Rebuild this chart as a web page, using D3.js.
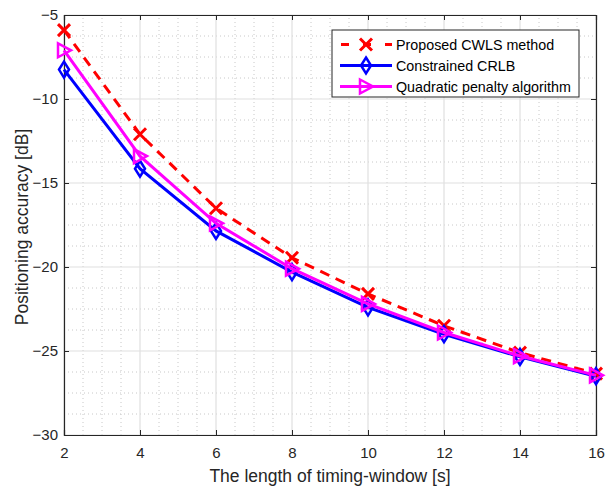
<!DOCTYPE html>
<html>
<head>
<meta charset="utf-8">
<script src="https://cdn.jsdelivr.net/npm/d3@7"></script>
<style>
  body { margin: 0; background: #fff; }
  svg { font-family: "Liberation Sans", Arial, sans-serif; }
</style>
</head>
<body>
<div id="chart"></div>
<script>
// data
const windowLen = [2, 4, 6, 8, 10, 12, 14, 16];
const cwls = [-5.9, -12.1, -16.5, -19.45, -21.6, -23.5, -25.1, -26.35];
const crlb = [-8.25, -14.15, -17.85, -20.3, -22.4, -24.0, -25.35, -26.5];
const quad = [-7.1, -13.4, -17.4, -20.1, -22.2, -23.9, -25.3, -26.45];
const seriesNames = ['Proposed CWLS method', 'Constrained CRLB', 'Quadratic penalty algorithm'];
const xTicks = [2, 4, 6, 8, 10, 12, 14, 16];
const yTicks = [-30, -25, -20, -15, -10, -5];

const W = 607, H = 487;
const margin = { left: 64, right: 11, top: 15, bottom: 52 };

const svg = d3.select('#chart').append('svg')
    .attr('width', W)
    .attr('height', H);

const x = d3.scaleLinear().domain([2, 16]).range([margin.left, W - margin.right]);
const y = d3.scaleLinear().domain([-30, -5]).range([H - margin.bottom, margin.top]);

// minor grid (dotted)
const minorX = d3.range(2, 16.01, 0.5).filter(v => !xTicks.includes(v));
const minorY = d3.range(-30, -4.99, 1.25).filter(v => !yTicks.includes(v));
svg.append('g').selectAll('line')
    .data(minorX).enter().append('line')
    .attr('x1', d => x(d)).attr('x2', d => x(d))
    .attr('y1', y(-30)).attr('y2', y(-5))
    .attr('stroke', '#c8c8c8').attr('stroke-width', 1)
    .attr('stroke-dasharray', '1,3');
svg.append('g').selectAll('line')
    .data(minorY).enter().append('line')
    .attr('x1', x(2)).attr('x2', x(16))
    .attr('y1', d => y(d)).attr('y2', d => y(d))
    .attr('stroke', '#c8c8c8').attr('stroke-width', 1)
    .attr('stroke-dasharray', '1,3');

// major grid
svg.append('g').selectAll('line')
    .data(xTicks).enter().append('line')
    .attr('x1', d => x(d)).attr('x2', d => x(d))
    .attr('y1', y(-30)).attr('y2', y(-5))
    .attr('stroke', '#e0e0e0').attr('stroke-width', 1.2);
svg.append('g').selectAll('line')
    .data(yTicks).enter().append('line')
    .attr('x1', x(2)).attr('x2', x(16))
    .attr('y1', d => y(d)).attr('y2', d => y(d))
    .attr('stroke', '#e0e0e0').attr('stroke-width', 1.2);

// axes
const xAxis = svg.append('g')
    .attr('transform', `translate(0,${y(-30)})`)
    .call(d3.axisBottom(x).tickValues(xTicks).tickSize(-5).tickPadding(12));
const xAxisTop = svg.append('g')
    .attr('transform', `translate(0,${y(-5)})`)
    .call(d3.axisTop(x).tickValues(xTicks).tickSize(-5).tickFormat(''));
const yAxis = svg.append('g')
    .attr('transform', `translate(${x(2)},0)`)
    .call(d3.axisLeft(y).tickValues(yTicks).tickSize(-5).tickPadding(6));
const yAxisRight = svg.append('g')
    .attr('transform', `translate(${x(16)},0)`)
    .call(d3.axisRight(y).tickValues(yTicks).tickSize(-5).tickFormat(''));

[xAxis, xAxisTop, yAxis, yAxisRight].forEach(a => {
    a.selectAll('path').attr('stroke', '#262626').attr('stroke-width', 1.2);
    a.selectAll('line').attr('stroke', '#262626');
    a.selectAll('text').attr('fill', '#262626')
        .style('font-size', '15px')
        .style('font-family', '"Liberation Sans", Arial, sans-serif');
});
yAxis.selectAll('text').attr('dy', '0.32em');

// axis labels
svg.append('text')
    .attr('x', (x(2) + x(16)) / 2)
    .attr('y', H - 5)
    .attr('text-anchor', 'middle')
    .attr('fill', '#262626')
    .style('font-size', '17.5px')
    .text('The length of timing-window [s]');
svg.append('text')
    .attr('transform', `translate(28,${(y(-5) + y(-30)) / 2 + 2}) rotate(-90)`)
    .attr('text-anchor', 'middle')
    .attr('fill', '#262626')
    .style('font-size', '17.5px')
    .text('Positioning accuracy [dB]');

// markers
function drawMarker(g, kind, color) {
    if (kind === 'x') {
        g.append('path').attr('d', 'M-6,-6L6,6M-6,6L6,-6')
            .attr('stroke', color).attr('stroke-width', 3).attr('fill', 'none');
    } else if (kind === 'diamond') {
        g.append('path').attr('d', 'M0,-8L5,0L0,8L-5,0Z')
            .attr('stroke', color).attr('stroke-width', 2.5).attr('fill', 'none');
    } else {
        g.append('path').attr('d', 'M-6,-7L7,0L-6,7Z')
            .attr('stroke', color).attr('stroke-width', 2.5).attr('fill', 'none');
    }
}

const series = [
    { name: seriesNames[0], values: cwls, color: '#ff0000', dash: '10,7', marker: 'x' },
    { name: seriesNames[1], values: crlb, color: '#0000ff', dash: null, marker: 'diamond' },
    { name: seriesNames[2], values: quad, color: '#ff00ff', dash: null, marker: 'tri' }
];

const line = d3.line()
    .x((d, i) => x(windowLen[i]))
    .y(d => y(d));

series.forEach(s => {
    svg.append('path')
        .datum(s.values)
        .attr('d', line)
        .attr('fill', 'none')
        .attr('stroke', s.color)
        .attr('stroke-width', 3)
        .attr('stroke-dasharray', s.dash);
    s.values.forEach((v, i) => {
        const g = svg.append('g').attr('transform', `translate(${x(windowLen[i])},${y(v)})`);
        drawMarker(g, s.marker, s.color);
    });
});

// legend
const legend = svg.append('g');
legend.append('rect')
    .attr('x', 332).attr('y', 30)
    .attr('width', 247).attr('height', 67)
    .attr('fill', '#fff').attr('stroke', '#262626').attr('stroke-width', 1);
series.forEach((s, i) => {
    const ly = 44.5 + i * 21;
    legend.append('line')
        .attr('x1', 340).attr('x2', 392)
        .attr('y1', ly).attr('y2', ly)
        .attr('stroke', s.color).attr('stroke-width', 3)
        .attr('stroke-dasharray', s.dash ? '8,14' : null)
        .attr('stroke-dashoffset', s.dash ? -1 : null);
    const g = legend.append('g').attr('transform', `translate(366,${ly})`);
    drawMarker(g, s.marker, s.color);
    legend.append('text')
        .attr('x', 396).attr('y', ly)
        .attr('dy', '0.35em')
        .attr('fill', '#000')
        .style('font-size', '14.3px')
        .text(s.name);
});
</script>
</body>
</html>
